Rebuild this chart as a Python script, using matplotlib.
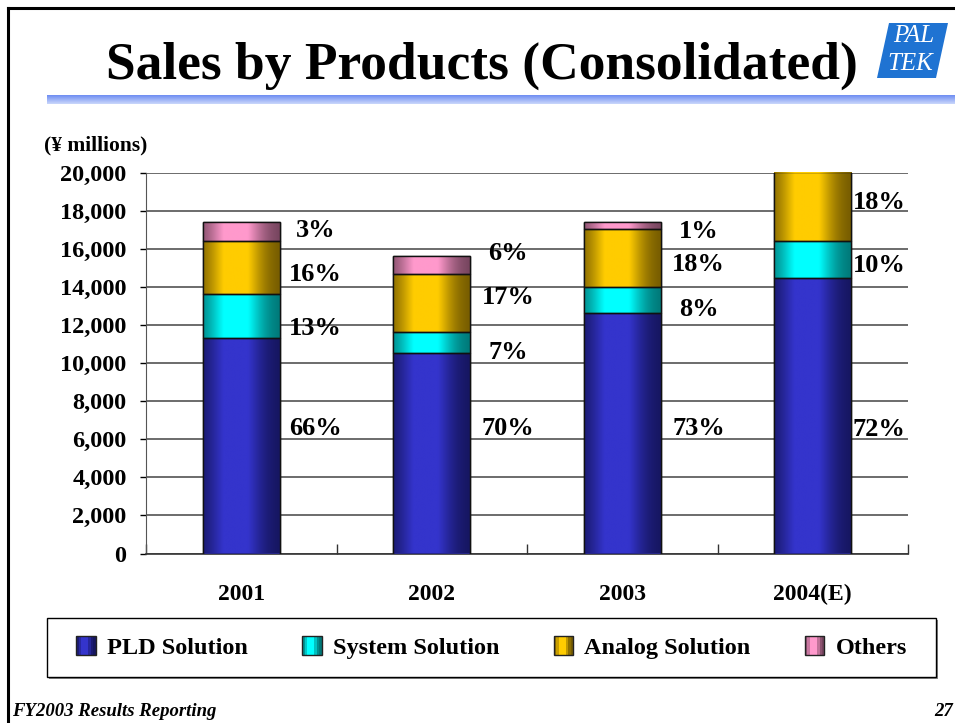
import numpy as np
import matplotlib
matplotlib.use("Agg")
import matplotlib.pyplot as plt
from matplotlib.patches import Rectangle, Polygon
from matplotlib.lines import Line2D
from matplotlib.legend_handler import HandlerBase

plt.rcParams['font.family'] = ['Liberation Serif', 'DejaVu Serif']

# ---------------- data ----------------
years = ["2001", "2002", "2003", "2004(E)"]
series = ["PLD Solution", "System Solution", "Analog Solution", "Others"]
pld = [11330, 10530, 12650, 14450]
system = [2280, 1120, 1370, 1960]
analog = [2800, 3010, 3030, 3640]
others = [1010, 980, 350, 0]
pld_pct = ["66%", "70%", "73%", "72%"]
system_pct = ["13%", "7%", "8%", "10%"]
analog_pct = ["16%", "17%", "18%", "18%"]
others_pct = ["3%", "6%", "1%", ""]
yticks = [0, 2000, 4000, 6000, 8000, 10000, 12000, 14000, 16000, 18000, 20000]

# ---------------- layout / style ----------------
W, H = 955, 723
series_colors = [("#3434cc", "#14145a"), ("#00ffff", "#007070"),
                 ("#ffcc00", "#6e5500"), ("#ff99cc", "#6e4058")]
# label placement (value-axis position of each percentage label, per year)
label_y = {
    0: [6590, 11840, 14630, 16990],
    1: [6590, 10580, 13420, 15780],
    2: [6590, 12790, 15200, 16890],
    3: [6490, 15100, 18410, None],
}
label_dx = [0.39, 0.40, 0.40, 0.35]

fig = plt.figure(figsize=(W / 100, H / 100), dpi=100)
fig.patch.set_facecolor("white")

def fx(px):
    return px / W

def fy(py):
    return 1 - py / H

ax = fig.add_axes([fx(146), fy(553.5), fx(908) - fx(146), fy(172.7) - fy(553.5)])
ax.set_xlim(0, 4)
ax.set_ylim(0, 20000)

x = np.arange(len(years)) + 0.5
bw = 0.405
values = [pld, system, analog, others]
bottoms = np.zeros(len(years))

def shade(center_hex, edge_hex, n=200):
    c = np.array(matplotlib.colors.to_rgb(center_hex))
    e = np.array(matplotlib.colors.to_rgb(edge_hex))
    t = np.linspace(0, 1, n)
    w = np.exp(-((t - 0.42) / 0.33) ** 2)
    w = np.clip(w * 1.25, 0, 1)
    return (e[None, :] * (1 - w[:, None]) + c[None, :] * w[:, None])[None, :, :]

class GradHandler(HandlerBase):
    def __init__(self, cc, ec):
        super().__init__()
        self.cc, self.ec = cc, ec

    def create_artists(self, legend, orig_handle, xdescent, ydescent, width, height,
                       fontsize, trans):
        arts = []
        n = 8
        g = shade(self.cc, self.ec, n)[0]
        for k in range(n):
            arts.append(Rectangle((-xdescent + width * k / n, -ydescent), width / n + 0.3, height,
                                  facecolor=g[k], edgecolor="none", transform=trans))
        arts.append(Rectangle((-xdescent, -ydescent), width, height, fill=False,
                              edgecolor="#222222", linewidth=1.0, transform=trans))
        return arts

handles = []
handler_map = {}
for vals, name, (cc, ec) in zip(values, series, series_colors):
    bars = ax.bar(x, vals, bw, bottom=bottoms, color=cc, edgecolor="#111111",
                  linewidth=1.0, zorder=3, label=name)
    grad = shade(cc, ec)
    for p in bars.patches:
        if p.get_height() <= 0:
            continue
        x0, y0 = p.get_x(), p.get_y()
        im = ax.imshow(grad, extent=(x0, x0 + p.get_width(), y0, y0 + p.get_height()),
                       aspect="auto", zorder=3.5, interpolation="bilinear")
        im.set_clip_path(p)
        r = Rectangle((x0, y0), p.get_width(), p.get_height(), fill=False,
                      edgecolor="#111111", linewidth=1.0, zorder=4)
        ax.add_patch(r)
    h = Rectangle((0, 0), 1, 1, facecolor=cc, edgecolor=ec, linewidth=1.2)
    handles.append(h)
    handler_map[h] = GradHandler(cc, ec)
    bottoms = bottoms + np.array(vals)

ax.set_xlim(0, 4)
ax.set_ylim(0, 20000)

# percentage labels
pcts = [pld_pct, system_pct, analog_pct, others_pct]
for i in range(len(years)):
    for s in range(4):
        ly = label_y[i][s]
        if ly is None or pcts[s][i] == "":
            continue
        ax.text(x[i] + label_dx[i], ly, pcts[s][i], ha="center", va="center",
                fontsize=19, fontweight="bold", zorder=6)

# axes styling
ax.set_yticks(yticks)
ax.set_yticklabels([f"{v:,}" for v in yticks], fontsize=17.5, fontweight="bold")
ax.yaxis.grid(True, color="#444444", linewidth=1.1, zorder=0)
ax.set_axisbelow(True)
ax.set_xticks([0, 1, 2, 3, 4])
ax.set_xticklabels([])
ax.set_xticks(x, minor=True)
ax.set_xticklabels(years, minor=True, fontsize=17, fontweight="bold")
ax.tick_params(axis="x", which="major", direction="in", length=7, width=1, color="#333333")
ax.tick_params(axis="x", which="minor", length=0, pad=22)
ax.tick_params(axis="y", which="major", direction="out", length=4, width=1, pad=10)
for sp in ["top", "right"]:
    ax.spines[sp].set_visible(False)
ax.spines["left"].set_color("#555555")
ax.spines["bottom"].set_color("#333333")
ax.spines["bottom"].set_linewidth(1.2)

# unit label
fig.text(fx(44), fy(145), "(¥ millions)", fontsize=15.5, fontweight="bold", va="center", ha="left")

# legend
leg = fig.legend(handles, series, handler_map=handler_map, loc="center", ncol=4,
                 bbox_to_anchor=(fx(47), fy(677), fx(936) - fx(47), fy(618) - fy(677)),
                 frameon=False, handlelength=0.8, handleheight=0.8, handletextpad=0.45,
                 columnspacing=2.25, prop={"size": 17.5, "weight": "bold"}, borderaxespad=0)
# legend frame sized to the reference box, with a grey drop shadow
fig.patches.append(Rectangle((fx(49), fy(679)), fx(938) - fx(49), fy(677) - fy(679),
                             transform=fig.transFigure, facecolor="#888888", edgecolor="none"))
fig.patches.append(Rectangle((fx(936), fy(679)), fx(938) - fx(936), fy(620) - fy(679),
                             transform=fig.transFigure, facecolor="#888888", edgecolor="none"))
fig.patches.append(Rectangle((fx(47), fy(677)), fx(936) - fx(47), fy(618) - fy(677),
                             transform=fig.transFigure, fill=False, edgecolor="black",
                             linewidth=1.0, zorder=10))

# title
fig.text(fx(482), fy(79), "Sales by Products (Consolidated)", fontsize=38.5,
         fontweight="bold", ha="center", va="baseline")

# gradient band under title
nb = 20
band_rgb = np.zeros((nb, 2, 3))
top_c = np.array(matplotlib.colors.to_rgb("#6f8ef2"))
bot_c = np.array(matplotlib.colors.to_rgb("#c9d6fb"))
for k in range(nb):
    t = k / (nb - 1)
    band_rgb[k, :, :] = top_c * (1 - t) + bot_c * t
bax = fig.add_axes([fx(47), fy(104), 1 - fx(47), fy(95) - fy(104)])
bax.imshow(band_rgb, aspect="auto", extent=(0, 1, 0, 1), interpolation="bilinear")
bax.set_axis_off()

# logo
logo = Polygon([(fx(889), fy(23)), (fx(948), fy(23)), (fx(936), fy(78)), (fx(877), fy(78))],
               closed=True, transform=fig.transFigure, facecolor="#1f73d2", edgecolor="none")
fig.patches.append(logo)
fig.text(fx(914), fy(36), "PAL", color="white", fontsize=18, style="italic",
         ha="center", va="center", family=["Liberation Serif"])
fig.text(fx(910), fy(64), "TEK", color="white", fontsize=18, style="italic",
         ha="center", va="center", family=["Liberation Serif"])

# slide border lines
fig.add_artist(Line2D([fx(8), 1], [fy(8), fy(8)], transform=fig.transFigure, color="black", lw=2.2))
fig.add_artist(Line2D([fx(8), fx(8)], [fy(8), 0], transform=fig.transFigure, color="black", lw=2.2))

# footer
fig.text(fx(12), fy(712), "FY2003 Results Reporting", fontsize=13.5, fontweight="bold",
         style="italic", ha="left", va="center")
fig.text(fx(953), fy(712), "27", fontsize=13.5, fontweight="bold",
         style="italic", ha="right", va="center")

fig.savefig("out.png", dpi=100)
